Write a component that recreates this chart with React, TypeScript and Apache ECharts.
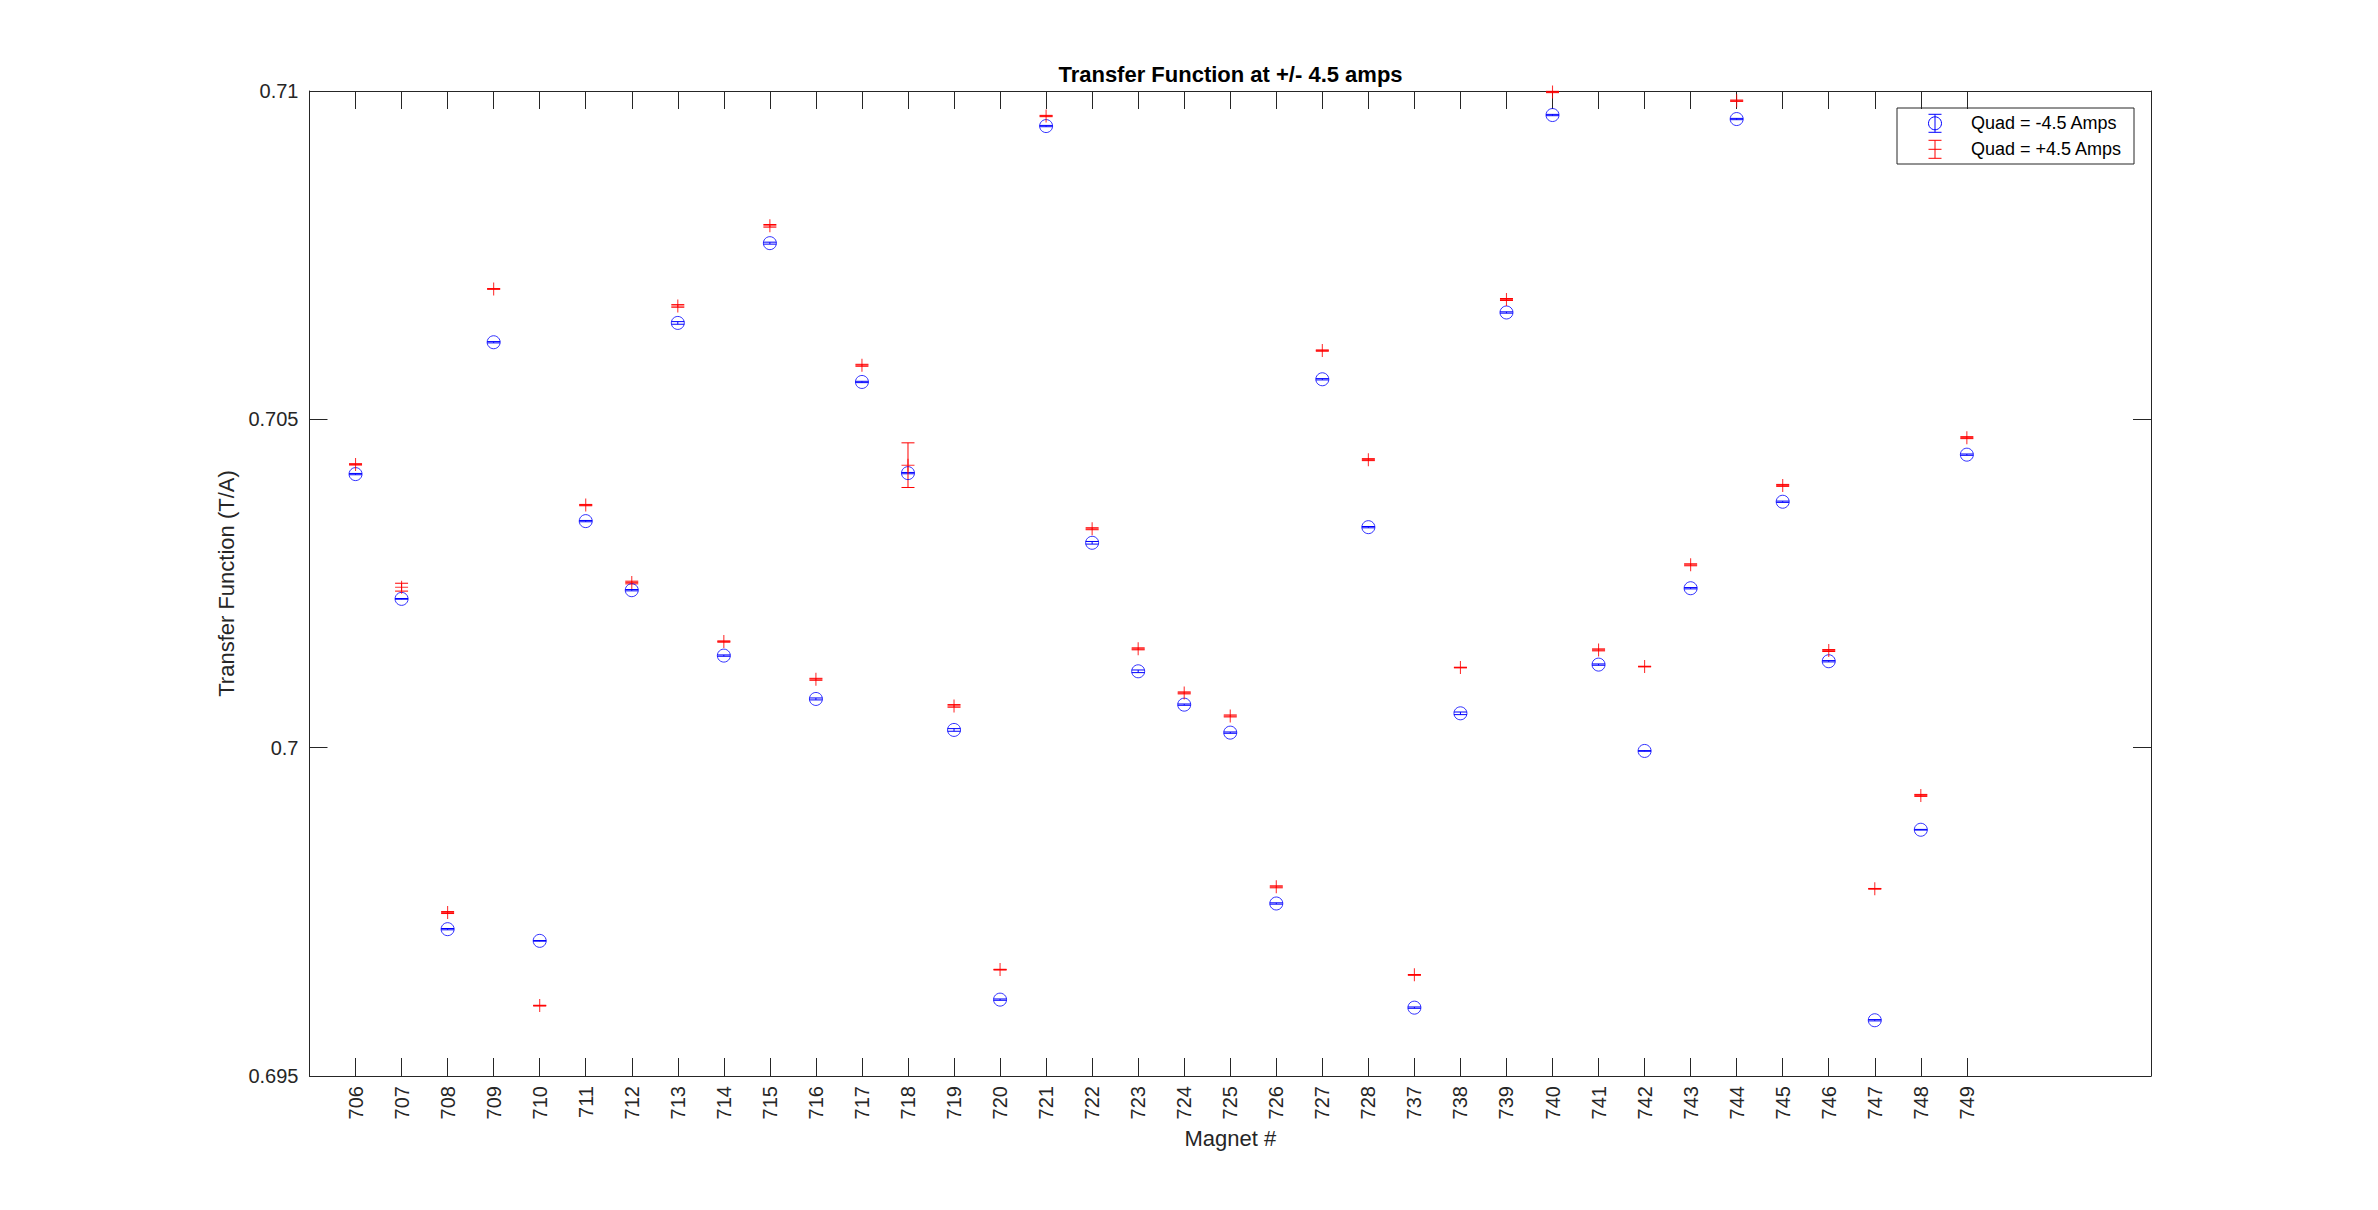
import React, { useEffect, useRef } from 'react';
import * as echarts from 'echarts';

const magnets = [
  '706', '707', '708', '709', '710', '711', '712', '713', '714', '715', '716', '717',
  '718', '719', '720', '721', '722', '723', '724', '725', '726', '727', '728',
  '737', '738', '739', '740', '741', '742', '743', '744', '745', '746', '747', '748', '749',
];

const quadMinus = [
  0.704166, 0.702266, 0.697236, 0.706174, 0.697058, 0.70345, 0.702398, 0.706468, 0.701402, 0.707683,
  0.700742, 0.705569, 0.704181, 0.70027, 0.696163, 0.709466, 0.70312, 0.701163, 0.700655, 0.700229,
  0.697627, 0.70561, 0.703358, 0.696041, 0.700523, 0.706627, 0.709634, 0.701265, 0.69995, 0.702428,
  0.709573, 0.703745, 0.701316, 0.695849, 0.69875, 0.704462,
];
const quadMinusErr = [
  0.00001, 0.000005, 0.00001, 0.00001, 0.000005, 0.00001, 0.00001, 0.00002, 0.00001, 0.000015,
  0.000015, 0.00001, 0.00001, 0.00002, 0.00001, 0.00001, 0.00002, 0.00002, 0.00001, 0.00001,
  0.00001, 0.00001, 0.00001, 0.00001, 0.00002, 0.00001, 0.00001, 0.00001, 0.000005, 0.00001,
  0.00001, 0.00001, 0.00001, 0.00001, 0.000005, 0.00001,
];
const quadPlus = [
  0.704314, 0.702444, 0.697489, 0.706986, 0.696072, 0.703694, 0.702515, 0.706727, 0.701616, 0.707947,
  0.701041, 0.705823, 0.704302, 0.700636, 0.69662, 0.709619, 0.703334, 0.701505, 0.700834, 0.700483,
  0.697881, 0.706047, 0.704386, 0.69654, 0.70122, 0.706825, 0.709985, 0.701489, 0.701235, 0.702785,
  0.709852, 0.703994, 0.701479, 0.697851, 0.699273, 0.704721,
];
const quadPlusErr = [
  0.00001, 0.00006, 0.000015, 0.000005, 0.000005, 0.00001, 0.00002, 0.00002, 0.00001, 0.00002,
  0.000015, 0.000015, 0.00034, 0.00002, 0.000005, 0.00001, 0.000015, 0.000015, 0.000015, 0.000015,
  0.000015, 0.00001, 0.000015, 0.000005, 0.000005, 0.000015, 0.00001, 0.000015, 0.000005, 0.000015,
  0.00001, 0.000015, 0.000015, 0.000005, 0.000015, 0.000015,
];

const yMin = 0.695;
const yMax = 0.71;
const yStep = 0.005;

const titleText = 'Transfer Function at +/- 4.5 amps';
const xName = 'Magnet #';
const yName = 'Transfer Function (T/A)';
const legendNames = ['Quad = -4.5 Amps', 'Quad = +4.5 Amps'];

const FONT = '"Liberation Sans", Arial, Helvetica, sans-serif';
const AX = '#262626';
const BLUE = '#0000ff';
const RED = '#ff0000';
const PLUS = 'path://M5.5,0h1v5.5h5.5v1h-5.5v5.5h-1v-5.5h-5.5v-1h5.5z';

export default function App() {
  const ref = useRef<HTMLDivElement>(null);

  useEffect(() => {
    const chart = echarts.init(ref.current!, null, { renderer: 'svg' });
    const n = magnets.length;
    const axisCats = ['pad0', ...magnets, 'pad37', 'pad38', 'pad39', 'pad40'];
    const isReal = (i: number) => i >= 1 && i <= n;

    const errSeries = (vals: number[], errs: number[], color: string, name: string) => ({
      type: 'custom',
      name,
      silent: true,
      clip: false,
      data: vals.map((v, i) => [i + 1, v, errs[i]]),
      encode: { x: 0, y: 1 },
      renderItem: (params: any, api: any) => {
        const x = api.value(0);
        const y = api.value(1);
        const e = api.value(2);
        const p1 = api.coord([x, y + e]);
        const p2 = api.coord([x, y - e]);
        const hw = 6.5;
        const st = { stroke: color, lineWidth: 1, fill: 'none' };
        return {
          type: 'group',
          children: [
            { type: 'line', shape: { x1: p1[0], y1: p1[1], x2: p2[0], y2: p2[1] }, style: st },
            { type: 'line', shape: { x1: p1[0] - hw, y1: p1[1], x2: p1[0] + hw, y2: p1[1] }, style: st },
            { type: 'line', shape: { x1: p2[0] - hw, y1: p2[1], x2: p2[0] + hw, y2: p2[1] }, style: st },
          ],
        };
      },
    });

    const xCommon = {
      type: 'category',
      data: axisCats,
      boundaryGap: false,
      axisLine: { show: true, lineStyle: { color: AX, width: 1 } },
      axisTick: {
        show: true,
        inside: true,
        length: 18,
        interval: (i: number) => isReal(i),
        lineStyle: { color: AX, width: 1 },
      },
      splitLine: { show: false },
    };
    const yCommon = {
      type: 'value',
      min: yMin,
      max: yMax,
      interval: yStep,
      axisLine: { show: true, lineStyle: { color: AX, width: 1 } },
      axisTick: { show: true, inside: true, length: 18, lineStyle: { color: AX, width: 1 } },
      splitLine: { show: false },
    };

    const lx = 1897, ly = 108, lw = 237, lh = 56;
    const ix = 1935;
    const r1 = 123.3, r2 = 149.3;
    const lst = (c: string) => ({ stroke: c, lineWidth: 1, fill: 'none' });

    chart.setOption({
      animation: false,
      backgroundColor: '#ffffff',
      title: {
        text: titleText,
        left: 1230.5,
        top: 63,
        textAlign: 'center',
        padding: 0,
        textStyle: { fontFamily: FONT, fontSize: 22, fontWeight: 'bold', color: '#000' },
      },
      grid: { left: 309.5, right: 227, top: 91, bottom: 134, containLabel: false },
      xAxis: [
        {
          ...xCommon,
          position: 'bottom',
          name: xName,
          nameLocation: 'middle',
          nameGap: 51,
          nameTextStyle: { fontFamily: FONT, fontSize: 22, color: AX },
          axisLabel: {
            show: true,
            rotate: 90,
            margin: 10,
            interval: (i: number) => isReal(i),
            formatter: (v: string) => (v.startsWith('pad') ? '' : v),
            fontFamily: FONT,
            fontSize: 20,
            color: AX,
          },
        },
        {
          ...xCommon,
          position: 'top',
          axisLabel: { show: false },
        },
      ],
      yAxis: [
        {
          ...yCommon,
          position: 'left',
          name: yName,
          nameLocation: 'middle',
          nameGap: 70,
          nameTextStyle: { fontFamily: FONT, fontSize: 22, color: AX },
          axisLabel: {
            show: true,
            margin: 11,
            fontFamily: FONT,
            fontSize: 20,
            color: AX,
            formatter: (v: number) => String(+v.toFixed(3)),
          },
        },
        {
          ...yCommon,
          position: 'right',
          axisLabel: { show: false },
        },
      ],
      series: [
        errSeries(quadMinus, quadMinusErr, BLUE, legendNames[0]),
        {
          type: 'scatter',
          name: legendNames[0],
          silent: true,
          clip: false,
          symbol: 'circle',
          symbolSize: 13,
          data: quadMinus.map((v, i) => [i + 1, v]),
          itemStyle: { color: 'rgba(0,0,0,0)', borderColor: BLUE, borderWidth: 1 },
        },
        errSeries(quadPlus, quadPlusErr, RED, legendNames[1]),
        {
          type: 'scatter',
          name: legendNames[1],
          silent: true,
          clip: false,
          symbol: PLUS,
          symbolSize: 13,
          data: quadPlus.map((v, i) => [i + 1, v]),
          itemStyle: { color: RED },
        },
      ],
      graphic: [
        {
          type: 'group',
          z: 100,
          children: [
            { type: 'rect', shape: { x: lx, y: ly, width: lw, height: lh }, style: { fill: '#fff', stroke: AX, lineWidth: 1 } },
            { type: 'line', shape: { x1: ix, y1: r1 - 9, x2: ix, y2: r1 + 9 }, style: lst(BLUE) },
            { type: 'line', shape: { x1: ix - 6.5, y1: r1 - 9, x2: ix + 6.5, y2: r1 - 9 }, style: lst(BLUE) },
            { type: 'line', shape: { x1: ix - 6.5, y1: r1 + 9, x2: ix + 6.5, y2: r1 + 9 }, style: lst(BLUE) },
            { type: 'circle', shape: { cx: ix, cy: r1, r: 6.5 }, style: lst(BLUE) },
            { type: 'line', shape: { x1: ix, y1: r2 - 9, x2: ix, y2: r2 + 9 }, style: lst(RED) },
            { type: 'line', shape: { x1: ix - 6.5, y1: r2 - 9, x2: ix + 6.5, y2: r2 - 9 }, style: lst(RED) },
            { type: 'line', shape: { x1: ix - 6.5, y1: r2 + 9, x2: ix + 6.5, y2: r2 + 9 }, style: lst(RED) },
            { type: 'line', shape: { x1: ix - 6.5, y1: r2, x2: ix + 6.5, y2: r2 }, style: lst(RED) },
            {
              type: 'text',
              x: 1971,
              y: r1,
              style: { text: legendNames[0], fontFamily: FONT, fontSize: 18, fill: '#000', align: 'left', verticalAlign: 'middle' },
            },
            {
              type: 'text',
              x: 1971,
              y: r2,
              style: { text: legendNames[1], fontFamily: FONT, fontSize: 18, fill: '#000', align: 'left', verticalAlign: 'middle' },
            },
          ],
        },
      ],
    });

    return () => chart.dispose();
  }, []);

  return (
    <div
      ref={ref}
      style={{ position: 'fixed', left: 0, top: 0, width: 2378, height: 1210, background: '#fff' }}
    />
  );
}
